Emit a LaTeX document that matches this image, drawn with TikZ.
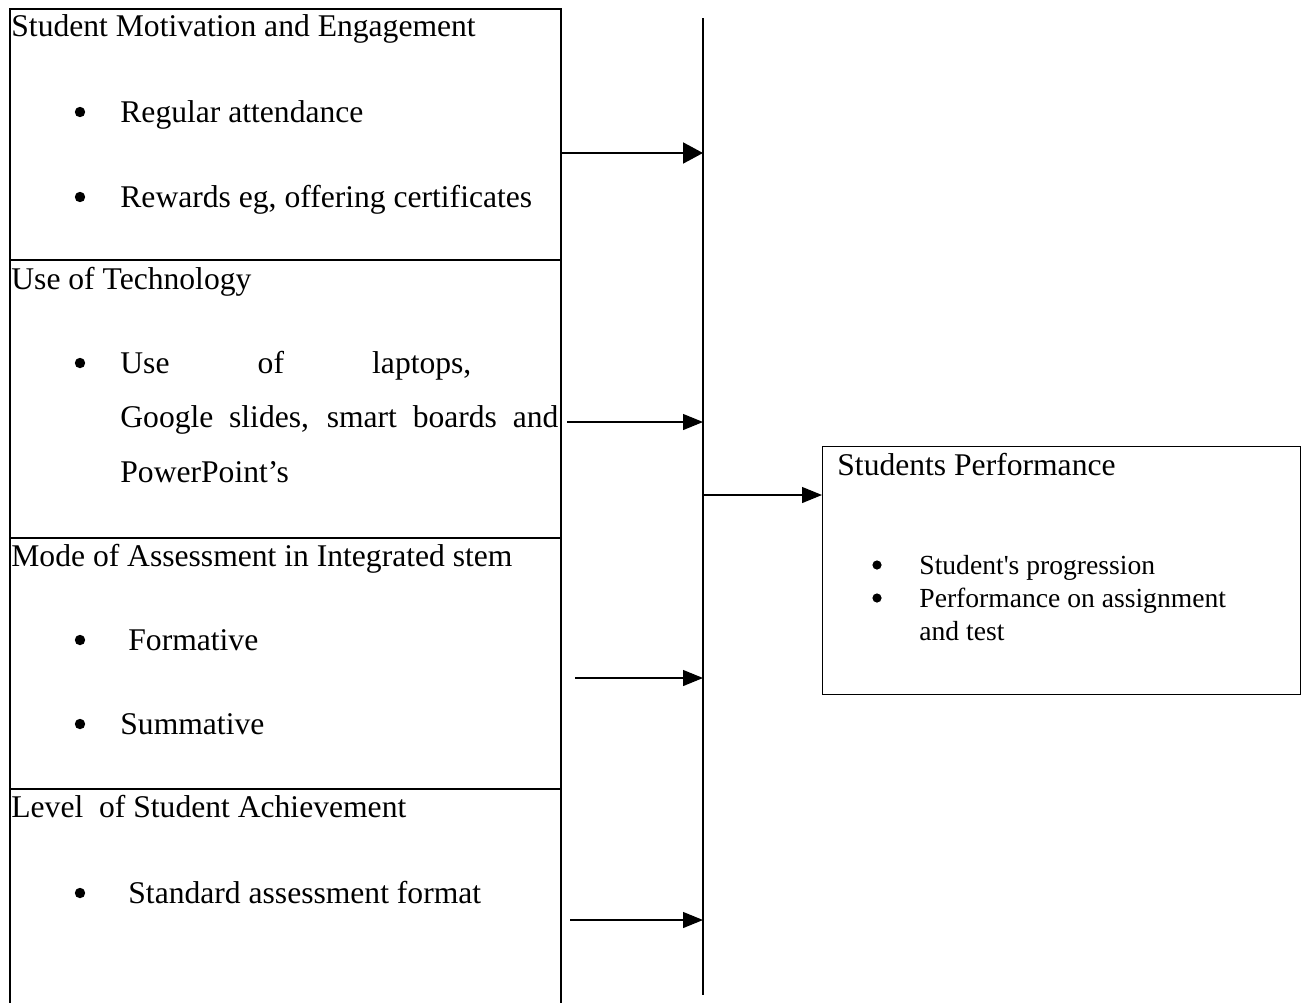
\documentclass[tikz,border=0pt]{standalone}
\usepackage{fontspec}
\setmainfont{Liberation Serif}
\usetikzlibrary{arrows.meta}

\def\bigsize{\fontsize{15.8pt}{19pt}\selectfont}
\def\smallsize{\fontsize{13.8pt}{16pt}\selectfont}

\tikzset{
  block/.style={draw, line width=1pt, anchor=north west, inner sep=0pt, minimum width=275.5pt},
  head/.style={anchor=base west, inner sep=0pt, font=\bigsize},
  dot/.style={circle, fill, inner sep=0pt, minimum size=5.2pt},
  sdot/.style={circle, fill, inner sep=0pt, minimum size=4.6pt},
  item/.style={anchor=base west, inner sep=0pt, font=\smallsize},
  thin line/.style={line width=0.6pt}
}

\begin{document}
\begin{tikzpicture}[x=0.5pt, y=-0.5pt, >={Triangle[length=10pt,width=8pt]}]
  \clip (0,0) rectangle (1307,1002);

  % draw factor boxes
  \foreach \m/\t/\h in {1/8/125.5pt, 2/259/139pt, 3/537/125.5pt, 4/788/120pt}
  \node [block, minimum height=\h] (box-\m) at (9,\t) {};

  % box titles
  \node [head] (title-1) at (11,36) {Student Motivation and Engagement};
  \node [head] (title-2) at (11,289) {Use of Technology};
  \node [head] (title-3) at (11,566) {Mode of Assessment in Integrated stem};
  \node [head] (title-4) at (11,817) {Level\ \ of Student Achievement};

  % bullets
  \foreach \y [count=\i] in {122,207,373,650,734,903}
  \node [dot] (dot-\i) at (80,\y-10) {};

  \node [head] (item-1) at (120,122) {Regular attendance};
  \node [head] (item-2) at (120,207) {Rewards eg, offering certificates};
  \node [head] (item-3) at (120,373) {\makebox[175.5pt][s]{Use of laptops,}};
  \node [head] (item-3b) at (120,427) {\makebox[219pt][s]{Google slides, smart boards and}};
  \node [head] (item-3c) at (120,482) {PowerPoint’s};
  \node [head] (item-4) at (128,650) {Formative};
  \node [head] (item-5) at (120,734) {Summative};
  \node [head] (item-6) at (128,903) {Standard assessment format};

  % draw collecting bar
  \coordinate (bar-top) at (703,18);
  \coordinate (bar-bot) at (703,995);
  \draw [thin line] (bar-top) -- (bar-bot);

  % draw outcome box
  \node [draw, thin line, anchor=north west, inner sep=0pt,
         minimum width=239pt, minimum height=124pt] (perf) at (822,446) {};
  \node [head] (perf-title) at (837,475) {Students Performance};
  \foreach \y [count=\i] in {574,607}
  \node [sdot] (pdot-\i) at (877,\y-9) {};
  \node [item] (perf-1) at (919,574) {Student\textquotesingle s progression};
  \node [item] (perf-2) at (919,607) {Performance on assignment};
  \node [item] (perf-3) at (919,640) {and test};

  % arrows into the bar
  \coordinate (from-1) at (562,153);
  \coordinate (from-2) at (567,422);
  \coordinate (from-3) at (575,678);
  \coordinate (from-4) at (570,920);

  \draw [->, line width=1pt, >={Triangle[length=10pt,width=10.5pt]}] (from-1) -- (from-1 -| bar-top);
  \foreach \i in {2,...,4}
  \draw [->, thin line] (from-\i) -- (from-\i -| bar-top);

  \coordinate (hub) at (703,495);
  \draw [->, thin line] (hub) -- (hub -| perf.west);

\end{tikzpicture}
\end{document}
